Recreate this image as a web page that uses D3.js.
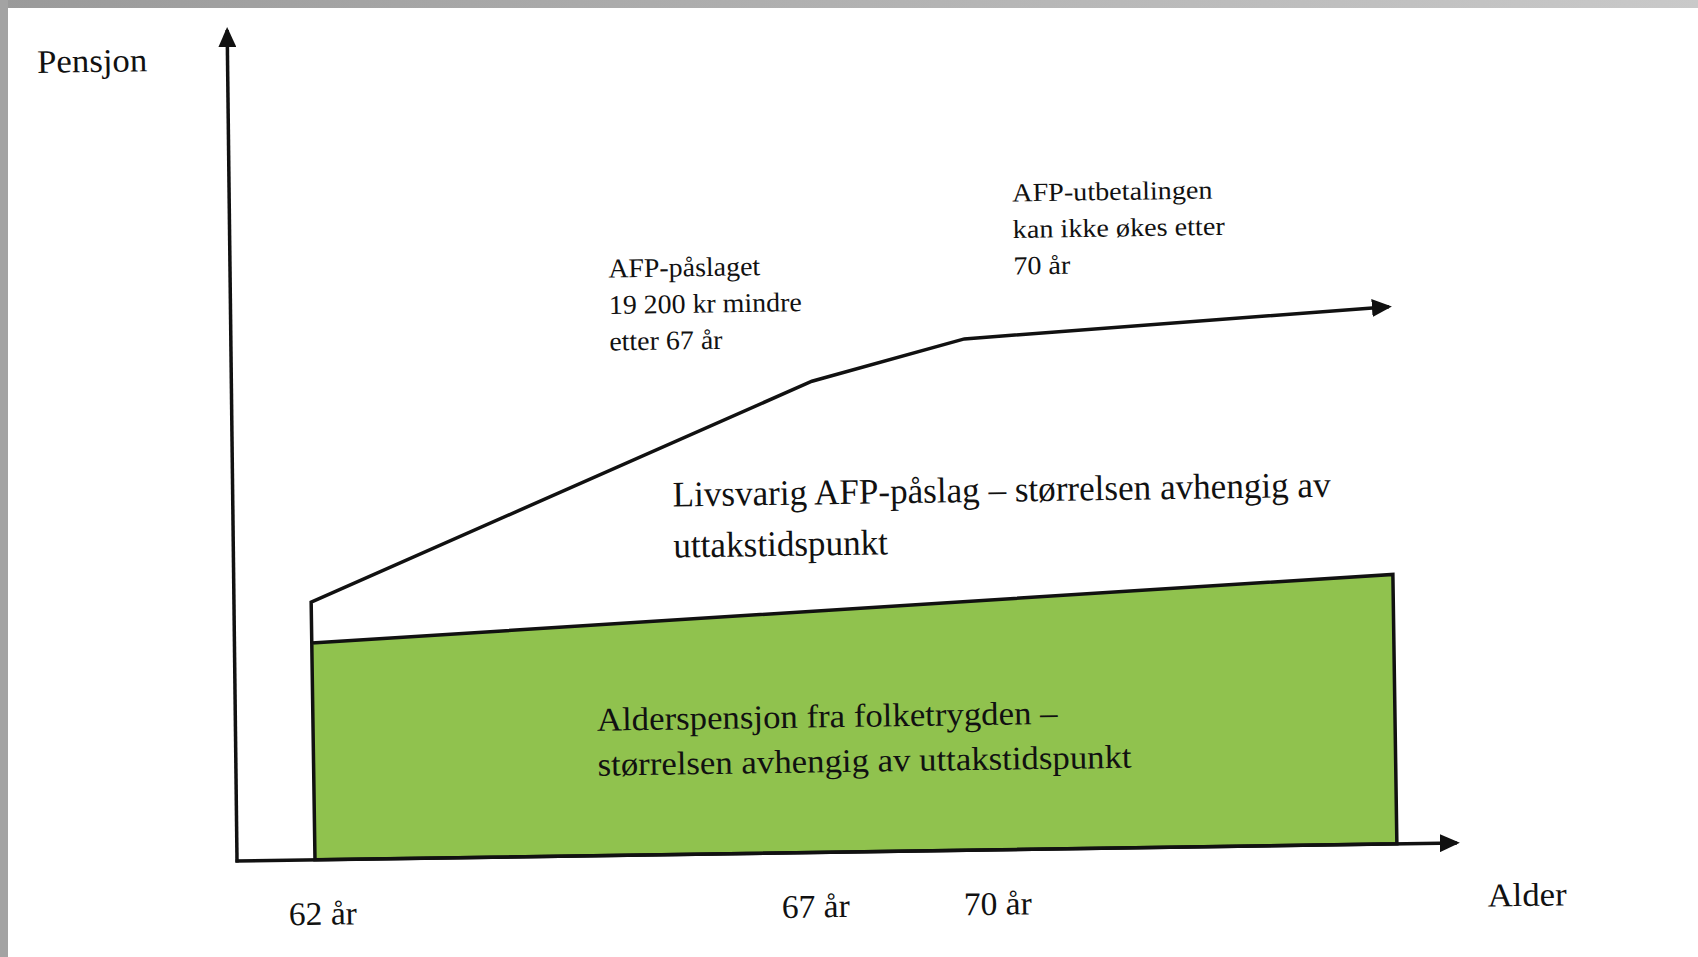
<!DOCTYPE html>
<html>
<head>
<meta charset="utf-8">
<script src="https://cdn.jsdelivr.net/npm/d3@7"></script>
<style>
  html, body { margin: 0; padding: 0; background: #fff; overflow: hidden; }
  svg { display: block; }
  text { font-family: 'Liberation Serif', 'Times New Roman', serif; fill: #111; }
</style>
</head>
<body>
<svg id="chart"></svg>
<script>
// ages on the x axis (schematic, not to scale)
const ages = [62, 67, 70, 77];
const tickAges = [62, 67, 70];
const tickLabels = ['62 år', '67 år', '70 år'];

// pension level, arbitrary units 0-100
const alderAges = [62, 77];
const alderspensjon = [26.0, 32.3];
const afpTotal = [30.9, 56.5, 61.3, 64.4]; // alderspensjon + AFP-påslag

const afpNote = ['AFP-påslaget', '19 200 kr mindre', 'etter 67 år'];
const capNote = ['AFP-utbetalingen', 'kan ikke økes etter', '70 år'];
const afpLabel = ['Livsvarig AFP-påslag – størrelsen avhengig av', 'uttakstidspunkt'];
const alderLabel = ['Alderspensjon fra folketrygden –', 'størrelsen avhengig av uttakstidspunkt'];
const yTitle = 'Pensjon';
const xTitle = 'Alder';

const width = 1698;
const height = 957;
const origin = { x: 237, y: 861 };
const tilt = -0.85; // the scan is slightly rotated

const svg = d3.select('#chart')
    .attr('width', width)
    .attr('height', height);

const defs = svg.append('defs');

const grad = defs.append('linearGradient')
    .attr('id', 'frameGrad')
    .attr('x1', 0).attr('x2', 1).attr('y1', 0).attr('y2', 0);
grad.append('stop').attr('offset', 0).attr('stop-color', '#9a9a9a');
grad.append('stop').attr('offset', 1).attr('stop-color', '#c9c9c9');

defs.append('marker')
    .attr('id', 'arrow')
    .attr('viewBox', '0 0 20 18')
    .attr('refX', 17)
    .attr('refY', 9)
    .attr('markerWidth', 20)
    .attr('markerHeight', 18)
    .attr('markerUnits', 'userSpaceOnUse')
    .attr('orient', 'auto')
  .append('path')
    .attr('d', 'M0,0L20,9L0,18Z')
    .attr('fill', '#111');

// screenshot frame
svg.append('rect')
    .attr('x', 0).attr('y', 0)
    .attr('width', width).attr('height', 8)
    .attr('fill', 'url(#frameGrad)');
svg.append('rect')
    .attr('x', 0).attr('y', 0)
    .attr('width', 8).attr('height', height)
    .attr('fill', '#a3a3a3');

const g = svg.append('g')
    .attr('transform', 'rotate(' + tilt + ',' + origin.x + ',' + origin.y + ')');

const x = d3.scaleLinear()
    .domain(ages)
    .range([315, 819, 972, 1397]);

const y = d3.scaleLinear()
    .domain([0, 100])
    .range([origin.y, 27]);

// alderspensjon block
const alderArea = d3.area()
    .x(d => x(d[0]))
    .y0(y(0))
    .y1(d => y(d[1]));

g.append('path')
    .datum(alderAges.map((a, i) => [a, alderspensjon[i]]))
    .attr('d', d => alderArea(d) + 'Z')
    .attr('fill', '#90c24e')
    .attr('stroke', '#111')
    .attr('stroke-width', 3.5)
    .attr('stroke-linejoin', 'miter');

// AFP line, starting from the top of the green block
const afpPts = [[ages[0], alderspensjon[0]]].concat(ages.map((a, i) => [a, afpTotal[i]]));

g.append('path')
    .datum(afpPts)
    .attr('d', d3.line().x(d => x(d[0])).y(d => y(d[1])))
    .attr('fill', 'none')
    .attr('stroke', '#111')
    .attr('stroke-width', 3.5)
    .attr('marker-end', 'url(#arrow)');

// axes
g.append('line')
    .attr('x1', origin.x).attr('y1', y(0) + 1.5)
    .attr('x2', origin.x + 2.5).attr('y2', y(100) + 3)
    .attr('stroke', '#111')
    .attr('stroke-width', 3.5)
    .attr('marker-end', 'url(#arrow)');

g.append('line')
    .attr('x1', origin.x - 1.5).attr('y1', y(0))
    .attr('x2', 1457).attr('y2', y(0))
    .attr('stroke', '#111')
    .attr('stroke-width', 3.5)
    .attr('marker-end', 'url(#arrow)');

// text blocks, squeezed to the scanned widths
function block(lines, x0, y0, size, gap, ref, refWidth) {
    const t = g.selectAll(null)
        .data(lines)
        .enter().append('text')
        .attr('x', x0)
        .attr('y', (d, i) => y0 + i * gap)
        .attr('font-size', size)
        .text(d => d);
    const nat = t.nodes().map(n => n.getComputedTextLength());
    const k = refWidth / nat[ref];
    t.attr('textLength', (d, i) => nat[i] * k)
        .attr('lengthAdjust', 'spacingAndGlyphs');
    return t;
}

block([yTitle], 49, 70, 33, 0, 0, 110);
block(afpNote, 617, 283, 27, 36.5, 1, 193);
block(capNote, 1022, 213, 26, 36.5, 1, 212);
block(afpLabel, 678, 513, 36, 51, 0, 658);
block(alderLabel, 599, 736, 33, 45, 1, 534);

const tickShift = [-27, -38, -9];
tickAges.forEach((a, i) => {
    block([tickLabels[i]], x(a) + tickShift[i], 926, 33, 0, 0, 68);
});
block([xTitle], 1487, 925, 33, 0, 0, 79);
</script>
</body>
</html>
